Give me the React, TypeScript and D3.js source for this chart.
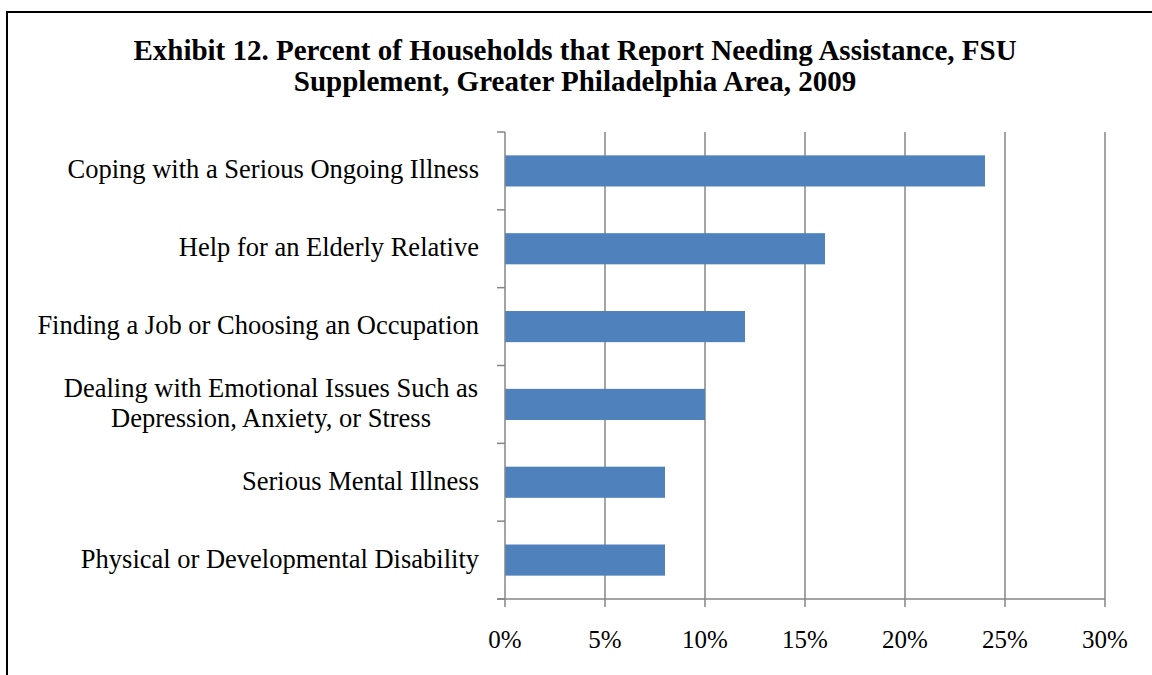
import React from "react";
import * as d3 from "d3";

const categories: string[][] = [
  ["Coping with a Serious Ongoing Illness"],
  ["Help for an Elderly Relative"],
  ["Finding a Job or Choosing an Occupation"],
  ["Dealing with Emotional Issues Such as", "Depression, Anxiety, or Stress"],
  ["Serious Mental Illness"],
  ["Physical or Developmental Disability"],
];
const values: number[] = [0.24, 0.16, 0.12, 0.10, 0.08, 0.08];
const xTicks: number[] = [0, 0.05, 0.10, 0.15, 0.20, 0.25, 0.30];
const titleLines: string[] = [
  "Exhibit 12. Percent of Households that Report Needing Assistance, FSU",
  "Supplement, Greater Philadelphia Area, 2009",
];

const W = 1152;
const H = 675;
const FONT = "'Liberation Serif', 'Times New Roman', serif";
const GRID = "#868686";

export default function App() {
  const keys = categories.map((c) => c.join(" "));
  const x = d3.scaleLinear().domain([0, 0.3]).range([505, 1105]);
  const y = d3.scaleBand<string>().domain(keys).range([132, 599]).paddingInner(0.6).paddingOuter(0.3);
  const step = y.step();
  const boundaries = d3.range(keys.length + 1).map((i) => 132 + i * step);
  const fmt = d3.format(".0%");

  return (
    <svg width={W} height={H} style={{ position: "absolute", left: 0, top: 0 }} fontFamily={FONT}>
      <rect x={0} y={0} width={W} height={H} fill="#fff" />
      <rect x={7} y={12} width={W + 20} height={H + 20} fill="none" stroke="#000" strokeWidth={2} />
      {titleLines.map((t, i) => (
        <text key={i} x={575} y={60 + i * 31} textAnchor="middle" fontWeight="bold" fontSize={29} fill="#000">
          {t}
        </text>
      ))}
      {xTicks.slice(1).map((t) => (
        <line key={t} x1={x(t)} x2={x(t)} y1={132} y2={599} stroke={GRID} strokeWidth={1.5} />
      ))}
      {keys.map((k, i) => (
        <rect key={k} x={x(0)} y={y(k)!} width={x(values[i]) - x(0)} height={y.bandwidth()} fill="#4F81BD" />
      ))}
      <line x1={505} x2={505} y1={132} y2={599} stroke={GRID} strokeWidth={1.5} />
      <line x1={497} x2={1105} y1={599} y2={599} stroke={GRID} strokeWidth={1.5} />
      {boundaries.map((b, i) => (
        <line key={i} x1={497} x2={505} y1={b} y2={b} stroke={GRID} strokeWidth={1.5} />
      ))}
      {xTicks.map((t) => (
        <g key={t}>
          <line x1={x(t)} x2={x(t)} y1={599} y2={607} stroke={GRID} strokeWidth={1.5} />
          <text x={x(t)} y={648} textAnchor="middle" fontSize={25} fill="#000">
            {fmt(t)}
          </text>
        </g>
      ))}
      {categories.map((lines, i) => {
        const cy = y(keys[i])! + y.bandwidth() / 2;
        const lh = 30;
        const startY = cy + 7.5 - ((lines.length - 1) * lh) / 2;
        const multi = lines.length > 1;
        return (
          <g key={i}>
            {lines.map((l, j) => (
              <text
                key={j}
                x={multi ? 271 : 479}
                y={startY + j * lh}
                textAnchor={multi ? "middle" : "end"}
                fontSize={26.5}
                fill="#000"
              >
                {l}
              </text>
            ))}
          </g>
        );
      })}
    </svg>
  );
}
